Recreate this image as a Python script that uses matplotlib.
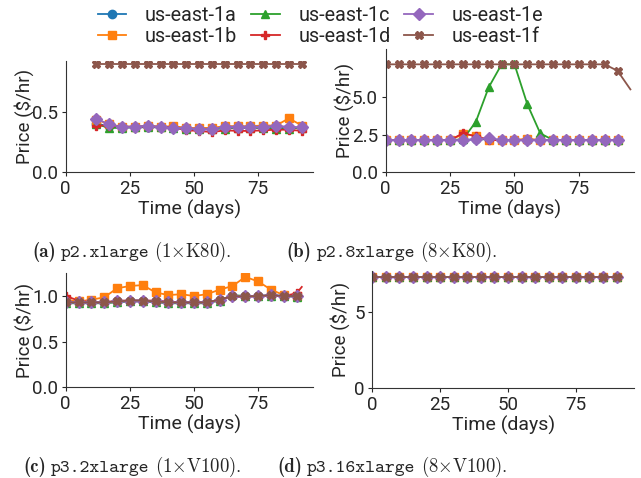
import matplotlib
matplotlib.use('Agg')
import matplotlib.pyplot as plt

plt.rcParams['font.family'] = ['Roboto', 'DejaVu Sans']
plt.rcParams['font.size'] = 14
plt.rcParams['mathtext.fontset'] = 'cm'
plt.rcParams['text.color'] = '#262626'
plt.rcParams['axes.labelcolor'] = '#262626'
plt.rcParams['xtick.color'] = '#262626'
plt.rcParams['ytick.color'] = '#262626'
plt.rcParams['xtick.labelsize'] = 13.5
plt.rcParams['ytick.labelsize'] = 13.5

zones = ['us-east-1a', 'us-east-1b', 'us-east-1c', 'us-east-1d', 'us-east-1e', 'us-east-1f']
colors = ['#1f77b4', '#ff7f0e', '#2ca02c', '#d62728', '#9467bd', '#8c564b']
markers = ['o', 's', '^', 'P', 'D', 'X']

# (a) p2.xlarge
days_a = [12, 17, 22, 27, 32, 37, 42, 47, 52, 57, 62, 67, 72, 77, 82, 87, 92]
price_a = {
    'us-east-1a': [0.40, 0.39, 0.38, 0.38, 0.38, 0.38, 0.375, 0.37, 0.365, 0.365, 0.37, 0.37, 0.37, 0.37, 0.37, 0.37, 0.37],
    'us-east-1b': [0.44, 0.40, 0.38, 0.38, 0.39, 0.38, 0.385, 0.37, 0.37, 0.37, 0.385, 0.385, 0.385, 0.39, 0.39, 0.45, 0.39],
    'us-east-1c': [0.40, 0.37, 0.37, 0.375, 0.375, 0.375, 0.37, 0.36, 0.36, 0.36, 0.365, 0.37, 0.37, 0.37, 0.36, 0.365, 0.37],
    'us-east-1d': [0.39, 0.39, 0.38, 0.38, 0.38, 0.38, 0.375, 0.35, 0.345, 0.335, 0.35, 0.345, 0.345, 0.35, 0.355, 0.355, 0.345],
    'us-east-1e': [0.444, 0.40, 0.375, 0.38, 0.39, 0.375, 0.372, 0.367, 0.36, 0.36, 0.38, 0.38, 0.38, 0.38, 0.386, 0.38, 0.375],
    'us-east-1f': [0.90] * 17,
}

# (b) p2.8xlarge
days_b = [0, 5, 10, 15, 20, 25, 30, 35, 40, 45, 50, 55, 60, 65, 70, 75, 80, 85, 90, 92]
days_b_f = [0, 5, 10, 15, 20, 25, 30, 35, 40, 45, 50, 55, 60, 65, 70, 75, 80, 85, 90, 95]
price_b = {
    'us-east-1a': [2.15, 2.15, 2.15, 2.15, 2.15, 2.15, 2.15, 2.2, 2.2, 2.15, 2.15, 2.15, 2.15, 2.15, 2.15, 2.15, 2.15, 2.15, 2.15, 2.15],
    'us-east-1b': [2.15, 2.15, 2.15, 2.15, 2.15, 2.15, 2.55, 2.45, 2.15, 2.15, 2.15, 2.25, 2.15, 2.15, 2.15, 2.15, 2.15, 2.15, 2.15, 2.15],
    'us-east-1c': [2.15, 2.15, 2.15, 2.15, 2.15, 2.15, 2.2, 3.37, 5.67, 7.2, 7.2, 4.53, 2.6, 2.15, 2.15, 2.15, 2.15, 2.15, 2.15, 2.15],
    'us-east-1d': [2.15, 2.15, 2.15, 2.15, 2.15, 2.15, 2.6, 2.4, 2.15, 2.15, 2.15, 2.15, 2.15, 2.15, 2.15, 2.15, 2.15, 2.15, 2.15, 2.15],
    'us-east-1e': [2.15, 2.15, 2.15, 2.15, 2.15, 2.15, 2.15, 2.2, 2.3, 2.15, 2.15, 2.15, 2.15, 2.15, 2.15, 2.15, 2.15, 2.15, 2.15, 2.15],
    'us-east-1f': [7.2, 7.2, 7.2, 7.2, 7.2, 7.2, 7.2, 7.2, 7.2, 7.2, 7.2, 7.2, 7.2, 7.2, 7.2, 7.2, 7.2, 7.2, 6.77, 5.53],
}

# (c) p3.2xlarge
days_c = [0, 5, 10, 15, 20, 25, 30, 35, 40, 45, 50, 55, 60, 65, 70, 75, 80, 85, 90, 92]
price_c = {
    'us-east-1a': [0.93, 0.93, 0.93, 0.93, 0.94, 0.95, 0.95, 0.94, 0.93, 0.93, 0.93, 0.93, 0.96, 1.0, 0.995, 1.0, 1.01, 1.0, 1.0, 1.0],
    'us-east-1b': [0.96, 0.94, 0.96, 0.985, 1.085, 1.11, 1.12, 1.04, 1.01, 1.02, 1.0, 1.02, 1.07, 1.11, 1.21, 1.16, 1.07, 1.01, 1.0, 1.0],
    'us-east-1c': [0.92, 0.92, 0.92, 0.92, 0.93, 0.94, 0.94, 0.93, 0.92, 0.92, 0.92, 0.92, 0.95, 1.01, 1.0, 1.0, 1.0, 1.0, 0.99, 0.99],
    'us-east-1d': [1.0, 0.95, 0.93, 0.93, 0.95, 0.95, 0.95, 0.95, 0.94, 0.93, 0.93, 0.93, 0.96, 0.99, 0.99, 1.0, 1.0, 1.0, 1.03, 1.1],
    'us-east-1e': [0.93, 0.93, 0.93, 0.93, 0.94, 0.95, 0.95, 0.94, 0.93, 0.93, 0.93, 0.93, 0.96, 1.0, 0.995, 1.0, 1.01, 1.0, 1.0, 1.0],
    'us-east-1f': [0.93, 0.93, 0.93, 0.93, 0.94, 0.95, 0.95, 0.94, 0.93, 0.93, 0.93, 0.93, 0.96, 1.0, 0.995, 1.0, 1.01, 1.0, 1.0, 1.0],
}

# (d) p3.16xlarge
days_d = [0, 5, 10, 15, 20, 25, 30, 35, 40, 45, 50, 55, 60, 65, 70, 75, 80, 85, 90, 92]
level_d = {'us-east-1a': 7.35, 'us-east-1b': 7.38, 'us-east-1c': 7.32,
           'us-east-1d': 7.35, 'us-east-1e': 7.35, 'us-east-1f': 7.35}

cap_tags = ['(a)', '(b)', '(c)', '(d)']
cap_names = ['p2.xlarge', 'p2.8xlarge', 'p3.2xlarge', 'p3.16xlarge']
cap_gpus = [r'$(1{\times}\mathrm{K80}).$', r'$(8{\times}\mathrm{K80}).$',
            r'$(1{\times}\mathrm{V100}).$', r'$(8{\times}\mathrm{V100}).$']

fig = plt.figure(figsize=(6.41, 4.78), dpi=100)
ax_a = fig.add_axes([0.1025, 0.6395, 0.3863, 0.2335])
ax_b = fig.add_axes([0.6017, 0.6395, 0.3878, 0.2573])
ax_c = fig.add_axes([0.1025, 0.1904, 0.3863, 0.2379])
ax_d = fig.add_axes([0.5808, 0.1883, 0.4087, 0.2448])


def draw(ax, series, ylim, yticks, ypad=-1.5):
    for (x, y), c, m, z in zip(series, colors, markers, zones):
        ax.plot(x, y, color=c, marker=m, markersize=6, linewidth=1.3,
                markevery=slice(0, 19), label=z)
    ax.set_xlim(0, 96.5)
    ax.set_ylim(*ylim)
    ax.set_xticks([0, 25, 50, 75])
    ax.set_yticks(yticks)
    ax.set_xlabel('Time (days)', labelpad=1.5, fontsize=14)
    ax.set_ylabel('Price ($/hr)', labelpad=ypad, fontsize=13.5)
    for s in ['top', 'right']:
        ax.spines[s].set_visible(False)
    for s in ['left', 'bottom']:
        ax.spines[s].set_color('#333333')
    ax.tick_params(length=3, pad=2.5)


draw(ax_a, [(days_a, price_a[z]) for z in zones], (0, 0.93), [0.0, 0.5])
ax_a.set_yticklabels(['0.0', '0.5'])
draw(ax_b, [((days_b_f if z == 'us-east-1f' else days_b), price_b[z]) for z in zones],
     (0, 8.2), [0.0, 2.5, 5.0])
ax_b.set_yticklabels(['0.0', '2.5', '5.0'])
draw(ax_c, [(days_c, price_c[z]) for z in zones], (0, 1.25), [0.0, 0.5, 1.0])
ax_c.set_yticklabels(['0.0', '0.5', '1.0'])
draw(ax_d, [(days_d, [level_d[z]] * len(days_d)) for z in zones], (0, 7.75), [0, 5], ypad=3)

handles, labels = ax_a.get_legend_handles_labels()
fig.legend(handles, labels, loc='upper center', bbox_to_anchor=(0.5, 1.024), ncol=3,
           frameon=False, handlelength=1.45, handletextpad=0.95, columnspacing=0.7,
           labelspacing=0.1, fontsize=14.2)

# captions: bold tag, typewriter instance name, roman gpu part, centred as one line
renderer = fig.canvas.get_renderer()
cap_pos = [(132, 257), (392, 257), (132, 472), (392, 472)]
for tag, name, gpu, (cx, cy) in zip(cap_tags, cap_names, cap_gpus, cap_pos):
    yb = 1 - cy / 478
    t1 = fig.text(0, yb, tag, fontfamily='cmb10', fontsize=13.5, va='baseline', ha='left')
    t2 = fig.text(0, yb, name, fontfamily='cmtt10', fontsize=13.5, va='baseline', ha='left')
    t3 = fig.text(0, yb, gpu, fontsize=13.5, va='baseline', ha='left')
    w1 = t1.get_window_extent(renderer).width
    w2 = t2.get_window_extent(renderer).width
    w3 = t3.get_window_extent(renderer).width
    gap = 5
    x0 = cx - (w1 + w2 + w3 + 2 * gap) / 2
    t1.set_x(x0 / 641)
    t2.set_x((x0 + w1 + gap) / 641)
    t3.set_x((x0 + w1 + w2 + 2 * gap) / 641)

fig.savefig('out.png', dpi=100)
